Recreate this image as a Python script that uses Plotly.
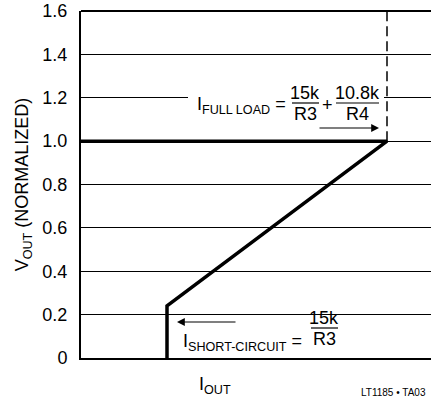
import plotly.graph_objects as go

# data (arbitrary I_OUT units, normalized V_OUT)
i_out = [0.0, 3.06, 0.86, 0.86]
v_out = [1.0, 1.0, 0.24, 0.0]
i_full_load = 3.06
dash_v = [1.0, 1.6]
y_ticks = [0, 0.2, 0.4, 0.6, 0.8, 1.0, 1.2, 1.4, 1.6]
y_tick_text = ["0", "0.2", "0.4", "0.6", "0.8", "1.0", "1.2", "1.4", "1.6"]

FONT = "Liberation Sans Narrow, Liberation Sans, Arial"
BLACK = "#000000"

fig = go.Figure()
fig.add_trace(go.Scatter(x=i_out, y=v_out, mode="lines",
                         line=dict(color=BLACK, width=3.5), hoverinfo="skip"))
fig.add_trace(go.Scatter(x=[i_full_load, i_full_load], y=dash_v, mode="lines",
                         line=dict(color=BLACK, width=1.5, dash="10px,5px"), hoverinfo="skip"))

def px2x(px):
    return (px - 81) / 100.0

def py2y(py):
    return (358 - py) / 216.875

ann = []
shapes = []
fs = 18
tf = dict(size=fs, family=FONT, color=BLACK)
# top frame line
shapes.append(dict(type="line", xref="paper", yref="paper", x0=0, x1=1, y0=1, y1=1,
                   line=dict(color=BLACK, width=2), layer="above"))
# full load label background (hides the 1.2 grid line behind the text)
shapes.append(dict(type="rect", xref="x", yref="y", x0=px2x(188), x1=px2x(384),
                   y0=py2y(101), y1=py2y(95), fillcolor="white", line=dict(width=0), layer="above"))
ann.append(dict(x=px2x(288), y=py2y(105), xref="x", yref="y", xanchor="right", yanchor="middle",
                text="I<sub>FULL LOAD</sub> =", showarrow=False, font=tf))
ann.append(dict(x=px2x(305), y=py2y(93), xref="x", yref="y", xanchor="center", yanchor="middle",
                text="15k", showarrow=False, font=tf))
ann.append(dict(x=px2x(305), y=py2y(114), xref="x", yref="y", xanchor="center", yanchor="middle",
                text="R3", showarrow=False, font=tf))
shapes.append(dict(type="line", xref="x", yref="y", x0=px2x(292), x1=px2x(319),
                   y0=py2y(103), y1=py2y(103), line=dict(color=BLACK, width=1.2), layer="above"))
ann.append(dict(x=px2x(327), y=py2y(105), xref="x", yref="y", xanchor="center", yanchor="middle",
                text="+", showarrow=False, font=tf))
ann.append(dict(x=px2x(357), y=py2y(93), xref="x", yref="y", xanchor="center", yanchor="middle",
                text="10.8k", showarrow=False, font=tf))
ann.append(dict(x=px2x(357), y=py2y(114), xref="x", yref="y", xanchor="center", yanchor="middle",
                text="R4", showarrow=False, font=tf))
shapes.append(dict(type="line", xref="x", yref="y", x0=px2x(336), x1=px2x(379),
                   y0=py2y(103), y1=py2y(103), line=dict(color=BLACK, width=1.2), layer="above"))
# full load arrow
ann.append(dict(x=px2x(379), y=py2y(128), ax=px2x(318), ay=py2y(128), xref="x", yref="y",
                axref="x", ayref="y", text="", showarrow=True, arrowhead=2, arrowsize=1.3,
                arrowwidth=1.2, arrowcolor=BLACK))

# short circuit
ann.append(dict(x=px2x(304), y=py2y(342), xref="x", yref="y", xanchor="right", yanchor="middle",
                text="I<sub>SHORT-CIRCUIT</sub> =", showarrow=False, font=tf))
ann.append(dict(x=px2x(324), y=py2y(318), xref="x", yref="y", xanchor="center", yanchor="middle",
                text="15k", showarrow=False, font=tf))
ann.append(dict(x=px2x(324), y=py2y(339), xref="x", yref="y", xanchor="center", yanchor="middle",
                text="R3", showarrow=False, font=tf))
shapes.append(dict(type="line", xref="x", yref="y", x0=px2x(311), x1=px2x(338),
                   y0=py2y(328), y1=py2y(328), line=dict(color=BLACK, width=1.2), layer="above"))
ann.append(dict(x=px2x(177), y=py2y(322), ax=px2x(237), ay=py2y(322), xref="x", yref="y",
                axref="x", ayref="y", text="", showarrow=True, arrowhead=2, arrowsize=1.3,
                arrowwidth=1.2, arrowcolor=BLACK))

# axis titles
ann.append(dict(x=px2x(215), y=-0.08, xref="x", yref="paper", xanchor="center", yanchor="middle",
                text="I<sub>OUT</sub>", showarrow=False, font=tf))
ann.append(dict(x=1.0, y=-0.098, xref="paper", yref="paper", xanchor="right", yanchor="middle",
                xshift=-3, text="LT1185 • TA03", showarrow=False, font=dict(size=10, family=FONT, color=BLACK)))

fig.update_layout(
    width=431, height=412,
    margin=dict(l=81, r=0, t=11, b=54, autoexpand=False),
    paper_bgcolor="white", plot_bgcolor="white",
    showlegend=False,
    font=dict(family=FONT, color=BLACK, size=fs),
    annotations=ann, shapes=shapes,
    xaxis=dict(range=[0, 3.5], showgrid=False, zeroline=False, showticklabels=False,
               ticks="", showline=True, linecolor=BLACK, linewidth=2, fixedrange=True,
               automargin=False),
    yaxis=dict(range=[0, 1.6], tickvals=y_ticks, ticktext=y_tick_text,
               showgrid=True, gridcolor=BLACK, gridwidth=1, zeroline=False,
               showline=True, linecolor=BLACK, linewidth=2, ticks="", ticklabelstandoff=8,
               tickfont=tf, automargin=False,
               title=dict(text="V<sub>OUT</sub> (NORMALIZED)", standoff=9, font=tf),
               fixedrange=True),
)
fig.write_html("out.html", config={"displayModeBar": False},
               post_script="document.body.style.margin='0';document.body.style.padding='0';")
